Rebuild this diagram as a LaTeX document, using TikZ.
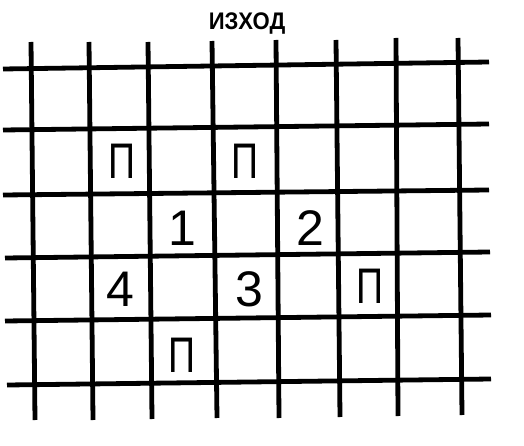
\documentclass[tikz,border=0pt]{standalone}
\usepackage{fontspec}
\setmainfont{Liberation Sans}
\begin{document}
\begin{tikzpicture}[x=1pt,y=-1pt,
  gridline/.style={line width=4.8pt,black,line cap=butt},
  cell/.style={font=\fontsize{50}{50}\selectfont,inner sep=0pt,anchor=center},
  title/.style={font=\fontsize{24}{24}\selectfont\bfseries,inner sep=0pt,anchor=center}]
\fill[white] (0,0) rectangle (524,446);
\useasboundingbox (0,0) rectangle (524,446);
% horizontal lines
\draw[gridline] (3,69) -- (489,62);
\draw[gridline] (3,130) -- (489,124);
\draw[gridline] (3,195) -- (489,190);
\draw[gridline] (5,258) -- (490,252);
\draw[gridline] (5,321) -- (491,315);
\draw[gridline] (7,385) -- (491,379);
% vertical lines
\draw[gridline] (31,42) -- (35,420);
\draw[gridline] (89,42) -- (93,420);
\draw[gridline] (148,42) -- (152,419);
\draw[gridline] (212,41) -- (217,418);
\draw[gridline] (276,40) -- (279,418);
\draw[gridline] (336,40) -- (340,417);
\draw[gridline] (396,38) -- (398,416);
\draw[gridline] (458,38) -- (462,415);
% labels
\node[title] (exit) at (247,24) {\scalebox{0.92}[1]{ИЗХОД}};
\node[cell] (p1) at (122,161) {\scalebox{0.75}[1]{П}};
\node[cell] (p2) at (245,161) {\scalebox{0.75}[1]{П}};
\node[cell] (n1) at (182,228) {1};
\node[cell] (n2) at (310,228) {2};
\node[cell] (n4) at (120,289) {4};
\node[cell] (n3) at (249,289) {3};
\node[cell] (p3) at (370,286) {\scalebox{0.75}[1]{П}};
\node[cell] (p4) at (182,355) {\scalebox{0.75}[1]{П}};
\end{tikzpicture}
\end{document}
